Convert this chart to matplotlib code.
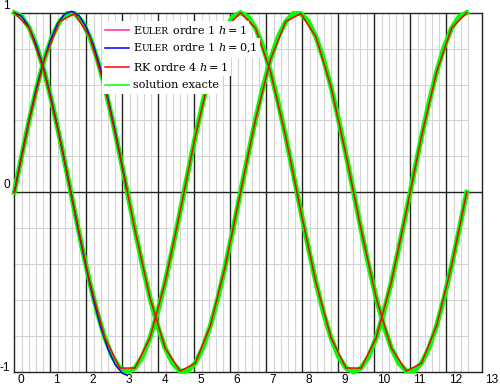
import numpy as np
import matplotlib
matplotlib.use("Agg")
import matplotlib.pyplot as plt
from matplotlib.transforms import ScaledTranslation
from matplotlib.offsetbox import AnchoredOffsetbox, HPacker, TextArea, DrawingArea
from matplotlib.lines import Line2D

# ---------------- data ----------------
x_ticks = list(range(14))
x_tick_labels = [str(v) for v in x_ticks]
y_ticks = [-1, 0, 1]
y_tick_labels = ["-1", "0", "1"]

# exact solution, sampled every 4*pi/60 on [0, 4*pi]
exact_cos = [1.000, 0.978, 0.914, 0.809, 0.669, 0.500, 0.309, 0.105, -0.105, -0.309,
             -0.500, -0.669, -0.809, -0.914, -0.978, -1.000, -0.978, -0.914, -0.809, -0.669,
             -0.500, -0.309, -0.105, 0.105, 0.309, 0.500, 0.669, 0.809, 0.914, 0.978,
             1.000, 0.978, 0.914, 0.809, 0.669, 0.500, 0.309, 0.105, -0.105, -0.309,
             -0.500, -0.669, -0.809, -0.914, -0.978, -1.000, -0.978, -0.914, -0.809, -0.669,
             -0.500, -0.309, -0.105, 0.105, 0.309, 0.500, 0.669, 0.809, 0.914, 0.978, 1.000]
exact_sin = [0.000, 0.208, 0.407, 0.588, 0.743, 0.866, 0.951, 0.995, 0.995, 0.951,
             0.866, 0.743, 0.588, 0.407, 0.208, 0.000, -0.208, -0.407, -0.588, -0.743,
             -0.866, -0.951, -0.995, -0.995, -0.951, -0.866, -0.743, -0.588, -0.407, -0.208,
             0.000, 0.208, 0.407, 0.588, 0.743, 0.866, 0.951, 0.995, 0.995, 0.951,
             0.866, 0.743, 0.588, 0.407, 0.208, 0.000, -0.208, -0.407, -0.588, -0.743,
             -0.866, -0.951, -0.995, -0.995, -0.951, -0.866, -0.743, -0.588, -0.407, -0.208, 0.000]

# RK4 (30 steps on [0, 4*pi])
rk_cos = [1.000, 0.914, 0.669, 0.309, -0.105, -0.500, -0.809, -0.978, -0.978, -0.809,
          -0.500, -0.105, 0.309, 0.669, 0.914, 1.000, 0.914, 0.669, 0.309, -0.105,
          -0.500, -0.809, -0.978, -0.978, -0.809, -0.500, -0.105, 0.309, 0.669, 0.914, 1.000]
rk_sin = [0.000, 0.407, 0.743, 0.951, 0.995, 0.866, 0.588, 0.208, -0.208, -0.588,
          -0.866, -0.995, -0.951, -0.743, -0.407, 0.000, 0.407, 0.743, 0.951, 0.995,
          0.866, 0.588, 0.208, -0.208, -0.588, -0.866, -0.995, -0.951, -0.743, -0.407, 0.000]

# Euler h = 0,1 (only visible on the first half period)
euler01_t = [0.0, 0.2, 0.4, 0.6, 0.8, 1.0, 1.2, 1.4, 1.6, 1.8, 2.0, 2.2, 2.4, 2.6, 2.8, 3.0, 3.12]
euler01_cos = [1.000, 0.981, 0.923, 0.827, 0.700, 0.543, 0.364, 0.171, -0.029, -0.229,
               -0.421, -0.597, -0.749, -0.871, -0.958, -1.007, -1.017]
euler01_sin = [0.000, 0.199, 0.390, 0.567, 0.720, 0.845, 0.938, 0.993, 1.008, 0.983,
               0.919, 0.818, 0.684, 0.523, 0.340, 0.143, 0.022]

# Euler h = 1 (not visible in the plot window)
euler1_t = []
euler1_y = []

t_exact = np.linspace(0, 4 * np.pi, len(exact_cos))
t_rk = np.linspace(0, 4 * np.pi, len(rk_cos))

# ---------------- figure ----------------
W, H = 500, 386
fig = plt.figure(figsize=(W / 100, H / 100), dpi=100)
L, R, T, B = 14.3, 482.3, 12.7, 372.0
ax = fig.add_axes([L / W, 1 - B / H, (R - L) / W, (B - T) / H])
ax.set_xlim(0, 13)
ax.set_ylim(-1, 1)

# grid
minor_x = [k / 5 for k in range(1, 64) if k % 5 != 0]
ax.vlines(minor_x, -1, 1, colors="#d4d4d4", lw=0.8, zorder=0.5)
ax.hlines([-0.8, -0.6, -0.4, -0.2, 0.2, 0.4, 0.6, 0.8], 0, 12.6, colors="#d4d4d4", lw=0.8, zorder=0.5)
ax.vlines(range(1, 13), -1, 1, colors="#222222", lw=1.0, zorder=1)
ax.axhline(0, color="#222222", lw=1.0, zorder=1)
for s in ax.spines.values():
    s.set_color("#222222")
    s.set_linewidth(1.0)

# curves
green, red, blue, pink = "#00ff00", "#ff0000", "#0000ff", "#ff2a9a"
ax.plot(t_exact, exact_cos, color=green, lw=3.6, zorder=3, clip_on=False, solid_joinstyle="miter")
ax.plot(t_exact, exact_sin, color=green, lw=3.6, zorder=3, clip_on=False, solid_joinstyle="miter")
ax.plot(euler01_t, euler01_cos, color=blue, lw=1.1, zorder=4, clip_on=False)
ax.plot(euler01_t, euler01_sin, color=blue, lw=1.1, zorder=4, clip_on=False)
ax.plot(euler1_t, euler1_y, color=pink, lw=1.1, zorder=4)
ax.plot(t_rk, rk_cos, color=red, lw=1.1, zorder=5, clip_on=False)
ax.plot(t_rk, rk_sin, color=red, lw=1.1, zorder=5, clip_on=False)

# ticks
ax.set_xticks(x_ticks)
ax.set_xticklabels(x_tick_labels)
ax.set_yticks(y_ticks)
ax.set_yticklabels(y_tick_labels)
ax.tick_params(length=0, labelsize=8.6)
ax.tick_params(axis="x", pad=1.2)
ax.tick_params(axis="y", pad=3.0)
for lab in ax.get_xticklabels():
    lab.set_family("Liberation Sans")
    lab.set_ha("left")
    lab.set_transform(lab.get_transform() + ScaledTranslation(3 / 100, 0, fig.dpi_scale_trans))
y_offsets = {"-1": 1.0, "0": 4.0, "1": 3.4}
for lab in ax.get_yticklabels():
    lab.set_family("Liberation Sans")
    lab.set_va("baseline")
    off = y_offsets.get(lab.get_text(), 3.0)
    lab.set_transform(lab.get_transform() + ScaledTranslation(0, off / 100, fig.dpi_scale_trans))

# legend (small caps Euler built from two sizes)
plt.rcParams["mathtext.fontset"] = "dejavuserif"
fs = 8.1
tp = dict(family="DejaVu Serif", size=fs, color="black")
tps = dict(family="DejaVu Serif", size=fs * 0.8, color="black")
rows = [
    (pink, [("E", tp), ("ULER", tps), (" ordre 1 $h=1$", tp)]),
    (blue, [("E", tp), ("ULER", tps), (" ordre 1 $h=0{,}1$", tp)]),
    (red, [("RK ordre 4 $h=1$", tp)]),
    (green, [("solution exacte", tp)]),
]
row_y = [30.0, 48.3, 66.7, 85.0]
for (col, parts), yc in zip(rows, row_y):
    da = DrawingArea(17, 8, 0, 0)
    da.add_artist(Line2D([0, 17], [4, 4], color=col, lw=1.1))
    texts = HPacker(children=[TextArea(s, textprops=p) for s, p in parts], align="baseline", pad=0, sep=0)
    row = HPacker(children=[da, texts], align="center", pad=0, sep=3.4)
    box = AnchoredOffsetbox(loc="center left", child=row, pad=0.22, borderpad=0, frameon=True,
                            bbox_to_anchor=(102 / W, 1 - yc / H), bbox_transform=fig.transFigure,
                            prop=dict(size=10))
    box.patch.set_facecolor("white")
    box.patch.set_edgecolor("none")
    box.set_zorder(6)
    ax.add_artist(box)

fig.savefig("out.png", dpi=100)
